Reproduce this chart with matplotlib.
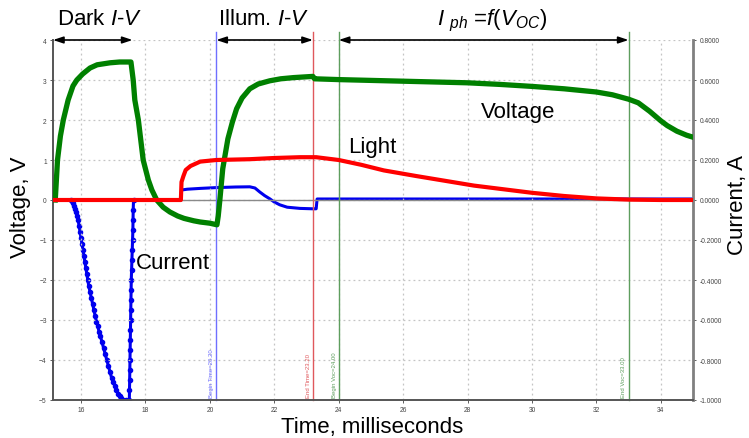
import numpy as np
import matplotlib
matplotlib.use('Agg')
import matplotlib.pyplot as plt
from matplotlib.ticker import FormatStrFormatter

plt.rcParams['font.family'] = ['Liberation Sans', 'DejaVu Sans']
plt.rcParams['mathtext.fontset'] = 'custom'
plt.rcParams['mathtext.rm'] = 'Liberation Sans'
plt.rcParams['mathtext.it'] = 'Liberation Sans:italic'

# ---------------- data ----------------
# Voltage (V), green
t_volt = [15.20, 15.27, 15.36, 15.45, 15.60, 15.75, 15.87, 16.05, 16.28, 16.50, 16.90,
          17.20, 17.55, 17.62, 17.67, 17.78, 17.93, 18.09, 18.20, 18.35, 18.55, 18.76,
          19.00, 19.20, 19.50, 19.70, 20.00, 20.22, 20.26, 20.31, 20.40, 20.56, 20.70,
          20.83, 21.00, 21.24, 21.50, 21.86, 22.20, 22.60, 23.00, 23.20, 23.25, 24.00,
          25.00, 26.00, 27.00, 28.00, 29.00, 30.00, 31.00, 32.00, 32.50, 33.00, 33.30,
          33.65, 34.00, 34.20, 34.50, 34.80, 35.00]
volt = [0.0, 1.0, 1.6, 2.0, 2.5, 2.85, 3.0, 3.15, 3.3, 3.38, 3.43,
        3.45, 3.45, 3.0, 2.5, 2.0, 1.0, 0.5, 0.25, 0.0, -0.18, -0.3,
        -0.4, -0.46, -0.52, -0.55, -0.58, -0.62, -0.4, 0.0, 0.78, 1.53, 1.95,
        2.28, 2.55, 2.78, 2.9, 2.98, 3.03, 3.06, 3.08, 3.09, 3.03, 3.01,
        2.99, 2.97, 2.95, 2.93, 2.89, 2.84, 2.78, 2.70, 2.63, 2.52, 2.43,
        2.22, 1.98, 1.86, 1.72, 1.62, 1.57]

# Light (V scale), red
t_light = [15.13, 19.10, 19.12, 19.18, 19.25, 19.40, 19.70, 20.20, 21.24, 22.00,
           22.80, 23.30, 24.00, 24.70, 25.40, 26.40, 27.45, 28.20, 29.00, 30.00,
           31.00, 32.00, 33.00, 34.00, 35.00]
light = [0.0, 0.0, 0.45, 0.6, 0.75, 0.85, 0.96, 1.0, 1.02, 1.05,
         1.07, 1.07, 1.0, 0.88, 0.74, 0.6, 0.46, 0.36, 0.28, 0.18,
         0.1, 0.04, 0.01, 0.0, 0.0]

# Current (A), blue
t_cur = [15.13, 15.70, 15.73, 15.76, 15.79, 15.82, 15.85, 15.88, 15.91, 15.94, 15.97,
         16.00, 16.03, 16.06, 16.09, 16.12, 16.15, 16.18, 16.21, 16.24, 16.28, 16.32,
         16.36, 16.40, 16.44, 16.48, 16.52, 16.56, 16.60, 16.65, 16.70, 16.75, 16.80,
         16.85, 16.90, 16.95, 17.00, 17.05, 17.10, 17.15, 17.20, 17.25, 17.30, 17.40,
         17.50,
         17.505, 17.51, 17.515, 17.52, 17.525, 17.53, 17.535, 17.54, 17.545, 17.55,
         17.555, 17.56, 17.57, 17.58, 17.59, 17.60, 17.61, 17.615, 17.62, 17.63,
         19.10, 19.12, 19.30, 19.70, 20.20, 20.80, 21.24, 21.40, 21.55, 21.70, 21.86,
         22.00, 22.17, 22.40, 22.80, 23.20, 23.30, 23.33, 35.00]
cur = [0.0, 0.0, -0.005, -0.015, -0.03, -0.045, -0.06, -0.08, -0.10, -0.13, -0.16,
       -0.19, -0.22, -0.25, -0.28, -0.31, -0.34, -0.37, -0.40, -0.43, -0.46, -0.49,
       -0.52, -0.55, -0.58, -0.61, -0.63, -0.66, -0.68, -0.71, -0.74, -0.77, -0.80,
       -0.83, -0.86, -0.89, -0.91, -0.93, -0.95, -0.97, -0.98, -0.99, -1.0, -1.0,
       -1.0,
       -0.95, -0.90, -0.85, -0.80, -0.75, -0.70, -0.65, -0.60, -0.55, -0.50,
       -0.45, -0.40, -0.35, -0.30, -0.25, -0.20, -0.15, -0.10, -0.05, 0.0,
       0.0, 0.05, 0.054, 0.058, 0.062, 0.065, 0.066, 0.06, 0.04, 0.022, 0.006,
       -0.01, -0.024, -0.036, -0.042, -0.044, -0.044, 0.005, 0.005]

# cursor lines
cursor_t = [20.20, 23.20, 24.00, 33.00]
cursor_lbl = ['Begin Time=20.20', 'End Time=23.20', 'Begin Voc=24.00', 'End Voc=33.00']
cursor_col = ['#6f6fff', '#e0585c', '#5e9e5e', '#5e9e5e']

x_ticks = [16, 18, 20, 22, 24, 26, 28, 30, 32, 34]
y_ticks = [-5, -4, -3, -2, -1, 0, 1, 2, 3, 4]
y2_ticks = [-1.0, -0.8, -0.6, -0.4, -0.2, 0.0, 0.2, 0.4, 0.6, 0.8]

# ---------------- figure ----------------
W, H = 749, 439
fig = plt.figure(figsize=(W / 100, H / 100), dpi=100)
fig.patch.set_facecolor('white')

def fx(x):
    return x / W

def fy(y):
    return 1 - y / H

ax = fig.add_axes([fx(53), fy(401), (693 - 53) / W, (401 - 41) / H])
ax2 = ax.twinx()
ax.set_zorder(ax2.get_zorder() + 1)
ax.patch.set_visible(False)

ax.set_xlim(15.13, 35.0)
ax.set_ylim(-5, 4)
ax2.set_ylim(-1.0, 0.8)
ax.set_xticks(x_ticks)
ax.set_yticks(y_ticks)
ax2.set_yticks(y2_ticks)
ax2.yaxis.set_major_formatter(FormatStrFormatter('%.4f'))

ax.set_axisbelow(True)
ax.grid(True, color='#c4c4c4', linestyle=(0, (1.5, 2.5)), linewidth=0.9)

for s in ['top', 'right']:
    ax.spines[s].set_visible(False)
for s in ['top', 'left', 'bottom']:
    ax2.spines[s].set_visible(False)
ax.spines['left'].set_color('#555555')
ax.spines['left'].set_linewidth(1.4)
ax.spines['bottom'].set_color('#555555')
ax.spines['bottom'].set_linewidth(1.4)
ax2.spines['right'].set_color('#808080')
ax2.spines['right'].set_linewidth(2.0)

ax.tick_params(labelsize=4.8, length=2.5, width=0.6, colors='#444444', pad=2)
ax2.tick_params(labelsize=4.8, length=2.5, width=0.6, colors='#444444', pad=2)

ax.axhline(0, color='#8a8a8a', lw=1.0, zorder=1)

for t, lbl, c in zip(cursor_t, cursor_lbl, cursor_col):
    ax.axvline(t, ymin=0, ymax=1.022, color=c, lw=1.0, zorder=1.5, clip_on=False)
    ax.annotate(lbl, xy=(t, -5), xytext=(-1.5, 2), textcoords='offset points',
                rotation=90, ha='right', va='bottom', fontsize=4.3, color=c)

# curves
ax2.plot(t_cur, cur, color='#0000ee', lw=2.2, zorder=2, solid_joinstyle='round')
dip = [i for i, t in enumerate(t_cur) if 15.7 <= t <= 17.64]
ax2.plot([t_cur[i] for i in dip], [cur[i] for i in dip], linestyle='none',
         marker='o', markersize=3.0, color='#0000ee', zorder=2)
ax.plot(t_volt, volt, color='#008000', lw=3.8, zorder=3, solid_joinstyle='round')
ax.plot(t_light, light, color='#ff0000', lw=3.0, zorder=4, solid_joinstyle='round')

# range arrows
arrow_kw = dict(arrowstyle='<|-|>,head_length=0.6,head_width=0.2', color='black',
                lw=1.2, mutation_scale=10, shrinkA=0, shrinkB=0)
for a, b in [(15.13, 17.6), (20.2, 23.2), (24.0, 33.0)]:
    ax.annotate('', xy=(a, 4), xytext=(b, 4), arrowprops=arrow_kw,
                annotation_clip=False)

# header texts
fs = 16
fig.text(fx(57), fy(25), r'Dark $I$-$V$', fontsize=fs, va='baseline', ha='left')
fig.text(fx(218), fy(25), r'Illum. $I$-$V$', fontsize=fs, va='baseline', ha='left')
fig.text(fx(437), fy(25), r'$I$ $_{ph}$ =$f(V_{OC})$', fontsize=fs, va='baseline', ha='left')

# in-plot labels
fig.text(fx(136), fy(269), 'Current', fontsize=fs, va='baseline', ha='left')
fig.text(fx(348), fy(153), 'Light', fontsize=fs, va='baseline', ha='left')
fig.text(fx(481), fy(118), 'Voltage', fontsize=fs, va='baseline', ha='left')

# axis labels
fig.text(fx(21), fy(207), 'Voltage, V', fontsize=fs, rotation=90, va='center', ha='center')
fig.text(fx(738), fy(205), 'Current, A', fontsize=fs, rotation=90, va='center', ha='center')
fig.text(fx(372), fy(433), 'Time, milliseconds', fontsize=fs, va='baseline', ha='center')

fig.savefig('out.png', dpi=100, facecolor='white')
